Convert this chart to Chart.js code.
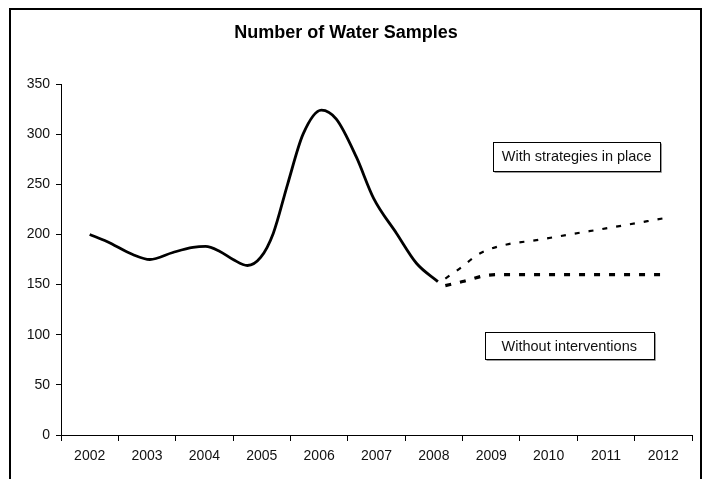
<!DOCTYPE html>
<html>
<head>
<meta charset="utf-8">
<title>Number of Water Samples</title>
<script src="https://cdn.jsdelivr.net/npm/chart.js@4"></script>
<style>
  html, body { margin: 0; padding: 0; background: #fff; }
  #wrap { position: relative; width: 704px; height: 479px; }
</style>
</head>
<body>
<div id="wrap"><canvas id="chart" width="704" height="479"></canvas></div>
<script>
// Year labels on the category axis
const yearLabels = ['2002', '2003', '2004', '2005', '2006', '2007', '2008', '2009', '2010', '2011', '2012'];

// Recorded samples (fractional year positions and counts)
const recordedYears   = [2002.0, 2002.3, 2002.75, 2003.05, 2003.45, 2003.8, 2004.02, 2004.27, 2004.5, 2004.75, 2004.98, 2005.2, 2005.45, 2005.72, 2006.04, 2006.3, 2006.65, 2006.95, 2007.35, 2007.7, 2008.07];
const recordedSamples = [200, 193, 180, 175, 182, 187, 188, 183, 175, 169, 177, 201, 250, 300, 324, 315, 277, 236, 201, 171, 153];

// Projection with strategies in place
const strategyYears   = [2008.2, 2008.45, 2008.8, 2009.27, 2009.76, 2010.37, 2011.0, 2012.0];
const strategySamples = [156, 166, 181, 190, 194, 200, 206, 216];

// Projection without interventions
const baselineYears   = [2008.2, 2008.5, 2008.9, 2009.2, 2012.0];
const baselineSamples = [149, 153, 159, 160, 160];

// Y axis ticks
const yTicks = [0, 50, 100, 150, 200, 250, 300, 350];

const FONT = "Arial, 'Liberation Sans', Helvetica, sans-serif";

function toPoints(xs, ys) {
  return xs.map((x, i) => ({ x: x, y: ys[i] }));
}

// Boxed captions, anchored in data units
const captions = [
  { text: 'With strategies in place', x: 2010.49, y: 278, w: 167, h: 29 },
  { text: 'Without interventions',    x: 2010.36, y: 89,  w: 169, h: 27 }
];

const captionPlugin = {
  id: 'captions',
  afterDatasetsDraw(chart) {
    const ctx = chart.ctx;
    const xs = chart.scales.x, ys = chart.scales.y;
    ctx.save();
    captions.forEach(c => {
      const cx = xs.getPixelForValue(c.x);
      const cy = ys.getPixelForValue(c.y);
      const left = Math.round(cx - c.w / 2) + 0.5;
      const top = Math.round(cy - c.h / 2) + 0.5;
      ctx.fillStyle = '#fff';
      ctx.fillRect(left, top, c.w, c.h);
      // soft shadow edge on right and bottom
      ctx.strokeStyle = '#9a9a9a';
      ctx.lineWidth = 1;
      ctx.beginPath();
      ctx.moveTo(left + c.w + 1, top + 1);
      ctx.lineTo(left + c.w + 1, top + c.h + 1);
      ctx.lineTo(left + 1, top + c.h + 1);
      ctx.stroke();
      ctx.strokeStyle = '#000';
      ctx.strokeRect(left, top, c.w, c.h);
      ctx.fillStyle = '#111';
      ctx.font = '14.5px ' + FONT;
      ctx.textAlign = 'center';
      ctx.textBaseline = 'middle';
      ctx.fillText(c.text, cx, cy + 1);
    });
    ctx.restore();
  }
};

// Outer frame around the chart
const framePlugin = {
  id: 'frame',
  beforeDraw(chart) {
    const ctx = chart.ctx;
    ctx.save();
    ctx.fillStyle = '#fff';
    ctx.fillRect(0, 0, chart.width, chart.height);
    ctx.strokeStyle = '#000';
    ctx.lineWidth = 2;
    ctx.beginPath();
    ctx.moveTo(10, chart.height + 5);
    ctx.lineTo(10, 9);
    ctx.lineTo(701, 9);
    ctx.lineTo(701, chart.height + 5);
    ctx.stroke();
    ctx.restore();
  }
};

new Chart(document.getElementById('chart'), {
  type: 'line',
  data: {
    datasets: [
      {
        label: 'Recorded',
        data: toPoints(recordedYears, recordedSamples),
        borderColor: '#000',
        borderWidth: 2.8,
        cubicInterpolationMode: 'monotone',
        pointRadius: 0,
        fill: false
      },
      {
        label: 'With strategies in place',
        data: toPoints(strategyYears, strategySamples),
        borderColor: '#000',
        borderWidth: 2.2,
        borderDash: [5, 9],
        borderCapStyle: 'butt',
        cubicInterpolationMode: 'monotone',
        pointRadius: 0,
        fill: false
      },
      {
        label: 'Without interventions',
        data: toPoints(baselineYears, baselineSamples),
        borderColor: '#000',
        borderWidth: 3.2,
        borderDash: [6, 9],
        borderCapStyle: 'butt',
        cubicInterpolationMode: 'monotone',
        pointRadius: 0,
        fill: false
      }
    ]
  },
  options: {
    responsive: false,
    animation: false,
    events: [],
    layout: { padding: { left: 0, right: 12, top: 0, bottom: 0 } },
    plugins: {
      legend: { display: false },
      tooltip: { enabled: false },
      title: {
        display: true,
        text: 'Number of Water Samples',
        color: '#000',
        font: { family: FONT, size: 18, weight: 'bold', lineHeight: 1.2 },
        padding: { top: 22, bottom: 40.4 }
      }
    },
    scales: {
      x: {
        type: 'linear',
        display: false,
        min: 2001.5,
        max: 2012.5
      },
      years: {
        type: 'category',
        position: 'bottom',
        labels: yearLabels,
        offset: true,
        grid: {
          display: true,
          offset: true,
          drawOnChartArea: false,
          drawTicks: true,
          tickLength: 6,
          color: '#000'
        },
        border: { display: true, color: '#000', width: 1 },
        ticks: {
          color: '#111',
          font: { family: FONT, size: 14 },
          padding: 7,
          maxRotation: 0,
          autoSkip: false
        },
        afterFit(scale) { scale.height = 44; }
      },
      y: {
        type: 'linear',
        min: 0,
        max: 350,
        afterBuildTicks(scale) { scale.ticks = yTicks.map(v => ({ value: v })); },
        grid: {
          display: true,
          drawOnChartArea: false,
          drawTicks: true,
          tickLength: 5,
          color: '#000'
        },
        border: { display: true, color: '#000', width: 1 },
        ticks: {
          color: '#111',
          font: { family: FONT, size: 14 },
          padding: 6
        },
        afterFit(scale) { scale.width = 61; }
      }
    }
  },
  plugins: [framePlugin, captionPlugin]
});
</script>
</body>
</html>
